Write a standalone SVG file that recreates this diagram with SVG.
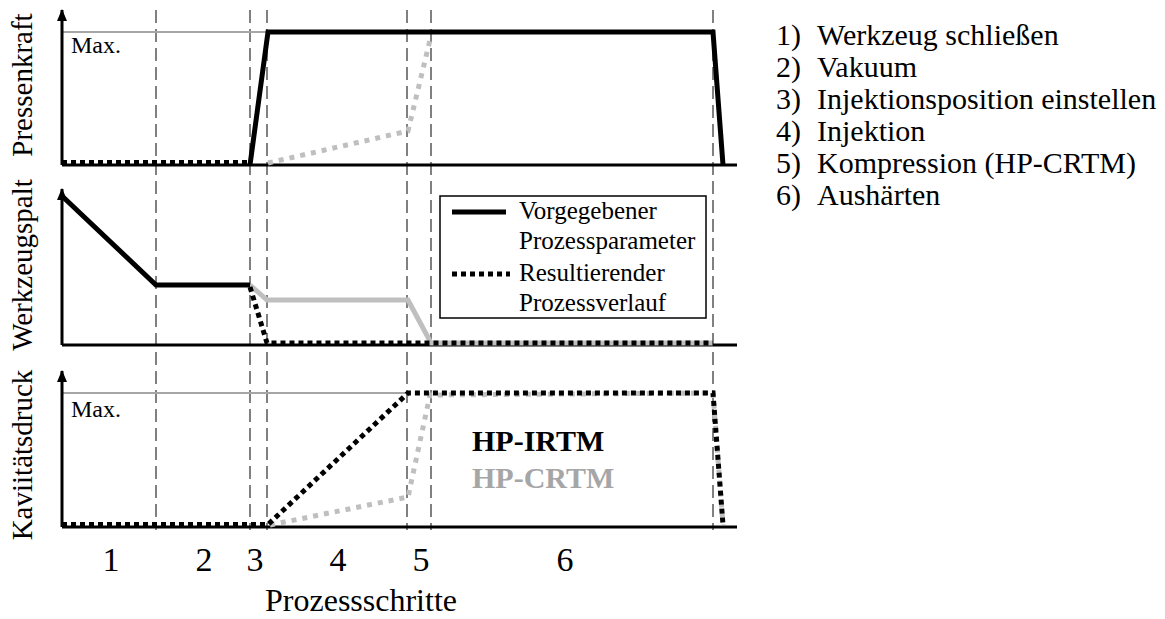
<svg xmlns="http://www.w3.org/2000/svg" width="1165" height="619" viewBox="0 0 1165 619">
  <style>
    .axis { stroke: #000; stroke-width: 3; fill: none; }
    .step { stroke: #808080; stroke-width: 2; stroke-dasharray: 13 6; fill: none; }
    .max { stroke: #a6a6a6; stroke-width: 2; fill: none; }
    .solid { stroke: #000; stroke-width: 5; fill: none; stroke-linejoin: miter; }
    .dot { stroke: #000; stroke-width: 5; stroke-dasharray: 5 4; fill: none; }
    .gsolid { stroke: #bfbfbf; stroke-width: 5; fill: none; }
    .gdot { stroke: #bfbfbf; stroke-width: 5; stroke-dasharray: 5 6; fill: none; }
    .ylab { font-size: 29px; }
    .leg { font-size: 25px; }
    .num { font-size: 34px; }
    .list { font-size: 30px; }
    .maxlab { font-size: 24px; }
  </style>
  <defs>
    <marker id="tip" viewBox="0 0 12 10" refX="11" refY="5" markerWidth="12" markerHeight="10" markerUnits="userSpaceOnUse" orient="auto">
      <path d="M0,0 L12,5 L0,10 Z" fill="#000"/>
    </marker>
  </defs>

  <!-- process step boundaries -->
  <g id="step-lines">
    <line class="step" x1="156" y1="10" x2="156" y2="530"/>
    <line class="step" x1="250" y1="10" x2="250" y2="530"/>
    <line class="step" x1="267" y1="10" x2="267" y2="530"/>
    <line class="step" x1="407" y1="10" x2="407" y2="530"/>
    <line class="step" x1="431" y1="10" x2="431" y2="530"/>
    <line class="step" x1="713" y1="10" x2="713" y2="530"/>
  </g>

  <g font-family="Liberation Serif, serif" fill="#000">
    <!-- panel 1: press force -->
    <g id="panel-pressenkraft">
      <line class="max" x1="62" y1="32" x2="268" y2="32"/>
      <text class="maxlab" x="71" y="53">Max.</text>
      <line class="axis" x1="62" y1="165" x2="737" y2="165"/>
      <line class="axis" x1="62" y1="165" x2="62" y2="10" marker-end="url(#tip)"/>
      <text class="ylab" transform="translate(32,85) rotate(-90)" text-anchor="middle">Pressenkraft</text>
    </g>

    <!-- panel 2: tool gap -->
    <g id="panel-werkzeugspalt">
      <line class="axis" x1="62" y1="345" x2="737" y2="345"/>
      <line class="axis" x1="62" y1="345" x2="62" y2="189" marker-end="url(#tip)"/>
      <text class="ylab" transform="translate(32,265) rotate(-90)" text-anchor="middle">Werkzeugspalt</text>
    </g>

    <!-- panel 3: cavity pressure -->
    <g id="panel-kavitaetsdruck">
      <line class="max" x1="62" y1="393" x2="407" y2="393"/>
      <text class="maxlab" x="71" y="417">Max.</text>
      <line class="axis" x1="62" y1="527" x2="737" y2="527"/>
      <line class="axis" x1="62" y1="527" x2="62" y2="371" marker-end="url(#tip)"/>
      <text class="ylab" transform="translate(32,455) rotate(-90)" text-anchor="middle">Kaviitätsdruck</text>
    </g>

    <!-- curves -->
    <g id="connectors">
      <!-- press force -->
      <polyline class="gdot" points="268,163 408,131 430,40"/>
      <polyline class="dot" points="62,162.5 250,162.5"/>
      <polyline class="solid" points="250,165 268,32 713,32 723,165"/>
      <!-- tool gap -->
      <polyline class="gsolid" points="250,285 267,300 408,300 431,343 713,343"/>
      <polyline class="solid" points="62,196 156,285 250,285"/>
      <polyline class="dot" points="250,287 267,343 713,343"/>
      <!-- cavity pressure -->
      <polyline class="gdot" points="270,525 408,497 430,395 713,393 723,525"/>
      <polyline class="dot" points="62,524.5 268,524.5 408,393 713,393 723,525"/>
    </g>

    <!-- legend -->
    <g id="legend">
      <rect x="440" y="196" width="266" height="122" fill="#fff" stroke="#000" stroke-width="1.5"/>
      <line class="solid" x1="452" y1="212" x2="506" y2="212"/>
      <text class="leg" x="519" y="219">Vorgegebener</text>
      <text class="leg" x="519" y="249">Prozessparameter</text>
      <line class="dot" x1="452" y1="274" x2="510" y2="274"/>
      <text class="leg" x="519" y="281">Resultierender</text>
      <text class="leg" x="519" y="311">Prozessverlauf</text>
    </g>

    <!-- method labels -->
    <g id="method-labels" font-size="30" font-weight="bold">
      <text x="472" y="451">HP-IRTM</text>
      <text x="472" y="488" fill="#a6a6a6">HP-CRTM</text>
    </g>

    <!-- x axis step numbers -->
    <g id="step-numbers" text-anchor="middle">
      <text class="num" x="111" y="571">1</text>
      <text class="num" x="204" y="571">2</text>
      <text class="num" x="255" y="571">3</text>
      <text class="num" x="338" y="571">4</text>
      <text class="num" x="421" y="571">5</text>
      <text class="num" x="565" y="571">6</text>
      <text x="361" y="611" font-size="32">Prozessschritte</text>
    </g>

    <!-- step list -->
    <g id="step-list">
      <text class="list" y="45"><tspan x="776">1)</tspan><tspan x="817">Werkzeug schließen</tspan></text>
      <text class="list" y="77"><tspan x="776">2)</tspan><tspan x="817">Vakuum</tspan></text>
      <text class="list" y="109"><tspan x="776">3)</tspan><tspan x="817">Injektionsposition einstellen</tspan></text>
      <text class="list" y="141"><tspan x="776">4)</tspan><tspan x="817">Injektion</tspan></text>
      <text class="list" y="173"><tspan x="776">5)</tspan><tspan x="817">Kompression (HP-CRTM)</tspan></text>
      <text class="list" y="205"><tspan x="776">6)</tspan><tspan x="817">Aushärten</tspan></text>
    </g>
  </g>
</svg>
